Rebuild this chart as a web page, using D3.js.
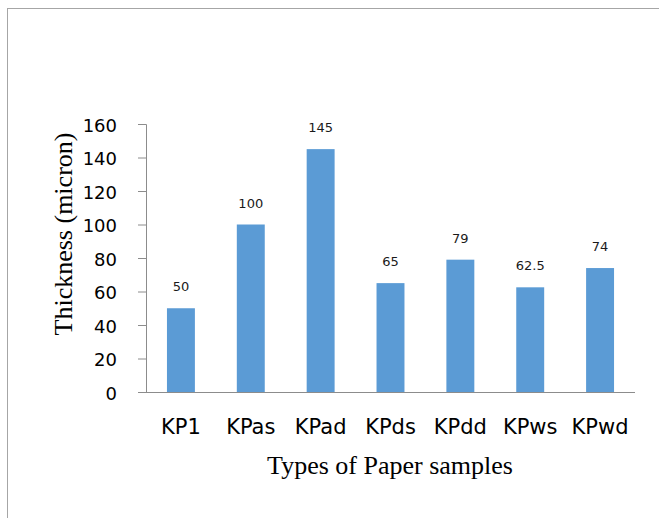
<!DOCTYPE html>
<html>
<head>
<meta charset="utf-8">
<script src="https://cdn.jsdelivr.net/npm/d3@7/dist/d3.min.js"></script>
<style>
  html, body { margin: 0; padding: 0; background: #fff; }
  svg { display: block; }
</style>
</head>
<body>
<svg id="chart" width="659" height="518"></svg>
<script>
// Paper sample thickness data
const categories = ["KP1", "KPas", "KPad", "KPds", "KPdd", "KPws", "KPwd"];
const thickness = [50, 100, 145, 65, 79, 62.5, 74];
const valueLabels = ["50", "100", "145", "65", "79", "62.5", "74"];
const yTicks = [0, 20, 40, 60, 80, 100, 120, 140, 160];

const svg = d3.select("#chart");
const W = 659, H = 518;
const plot = { left: 146, right: 635, top: 124, bottom: 392 };

// chart-area frame (runs off the right and bottom edges)
svg.append("rect")
  .attr("x", 7.5).attr("y", 8.5)
  .attr("width", W + 20).attr("height", H + 20)
  .attr("fill", "none").attr("stroke", "#a6a6a6").attr("stroke-width", 1);

const x = d3.scaleBand().domain(categories)
  .range([plot.left, plot.right]).paddingInner(0.6).paddingOuter(0.3);
const y = d3.scaleLinear().domain([0, 160]).range([plot.bottom, plot.top]);

// bars
svg.append("g").selectAll("rect")
  .data(categories)
  .join("rect")
  .attr("x", d => x(d))
  .attr("y", (d, i) => y(thickness[i]))
  .attr("width", x.bandwidth())
  .attr("height", (d, i) => y(0) - y(thickness[i]))
  .attr("fill", "#5b9bd5");

// value labels
svg.append("g").selectAll("text")
  .data(categories)
  .join("text")
  .attr("x", d => x(d) + x.bandwidth() / 2)
  .attr("y", (d, i) => y(thickness[i]) - 17)
  .attr("text-anchor", "middle")
  .attr("font-family", "DejaVu Sans, sans-serif")
  .attr("font-size", 13)
  .attr("fill", "#1a1a1a")
  .text((d, i) => valueLabels[i]);

// y axis
const yAxis = d3.axisLeft(y).tickValues(yTicks).tickSize(8).tickPadding(21)
  .tickFormat(d3.format("d"));
const gy = svg.append("g").attr("transform", `translate(${plot.left},0)`).call(yAxis);
gy.select(".domain").attr("stroke", "#8c8c8c");
gy.selectAll(".tick line").attr("stroke", "#8c8c8c");
gy.selectAll(".tick text")
  .attr("font-family", "DejaVu Sans, sans-serif")
  .attr("font-size", 18)
  .attr("fill", "#000")
  .attr("dy", "0.4em");

// x axis
const xAxis = d3.axisBottom(x).tickSize(0).tickPadding(0);
const gx = svg.append("g").attr("transform", `translate(0,${plot.bottom})`).call(xAxis);
gx.select(".domain").attr("stroke", "#8c8c8c").attr("d", `M${plot.left},0.5H${plot.right}`);
gx.selectAll(".tick text")
  .attr("font-family", "DejaVu Sans, sans-serif")
  .attr("font-size", 21)
  .attr("fill", "#000")
  .attr("y", 42)
  .attr("dy", 0);

// axis titles
svg.append("text")
  .attr("x", 390).attr("y", 474)
  .attr("text-anchor", "middle")
  .attr("font-family", "Liberation Serif, Times New Roman, serif")
  .attr("font-size", 26)
  .attr("fill", "#000")
  .text("Types of Paper samples");

svg.append("text")
  .attr("transform", "translate(72,234) rotate(-90)")
  .attr("text-anchor", "middle")
  .attr("font-family", "Liberation Serif, Times New Roman, serif")
  .attr("font-size", 26)
  .attr("fill", "#000")
  .text("Thickness (micron)");
</script>
</body>
</html>
